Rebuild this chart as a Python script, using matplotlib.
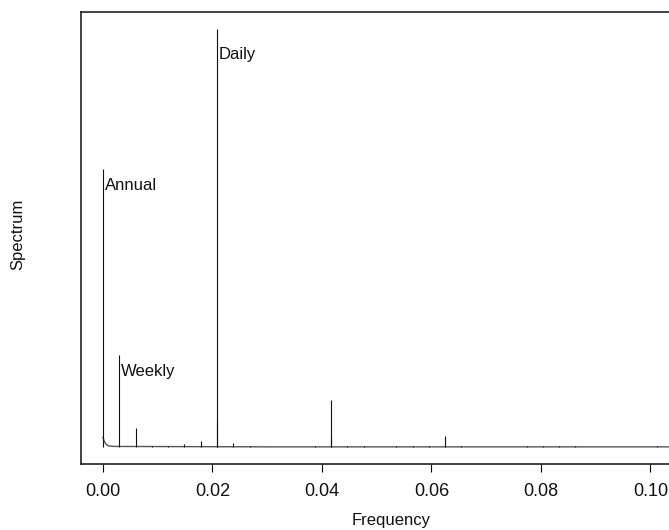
import numpy as np
import matplotlib.pyplot as plt

plt.rcParams['font.family'] = ['Liberation Sans', 'DejaVu Sans']

# spectral peaks (frequency in cycles per half-hour, relative power)
peak_freq = [0.000057, 0.002976, 0.005952, 0.008929, 0.011905, 0.014881,
             0.017857, 0.020833, 0.020860, 0.023810, 0.026786, 0.038690,
             0.041667, 0.041690, 0.044643, 0.047619, 0.053571, 0.056548,
             0.059524, 0.062500, 0.065476, 0.077381, 0.080357, 0.083333,
             0.086310, 0.101190]
peak_power = [0.665, 0.220, 0.045, 0.003, 0.003, 0.009,
              0.015, 1.000, 0.065, 0.011, 0.004, 0.002,
              0.114, 0.025, 0.002, 0.002, 0.002, 0.002,
              0.002, 0.026, 0.002, 0.002, 0.002, 0.004,
              0.002, 0.002]

# low-level background of the periodogram
bg_freq = [0.0, 0.0001, 0.0002, 0.0005, 0.0008, 0.0011, 0.002, 0.03, 0.06, 0.106]
bg_power = [0.024, 0.020, 0.015, 0.008, 0.005, 0.003, 0.002, 0.001, 0.001, 0.001]

labels = ['Annual', 'Weekly', 'Daily']
label_freq = [0.000057, 0.002976, 0.020833]
label_power = [0.625, 0.181, 0.938]

fig = plt.figure(figsize=(6.69, 5.30), dpi=100)
ax = fig.add_axes([81 / 669, 66 / 530, 594 / 669, 451.7 / 530])

ax.plot(bg_freq, bg_power, color='#555555', lw=1.0)
ax.vlines(peak_freq, 0, peak_power, color='#111111', lw=0.8)

for name, f, p in zip(labels, label_freq, label_power):
    ax.text(f + 0.0003, p, name, fontsize=12, va='center', ha='left', color='#111111')

ax.set_xlim(-0.00402, 0.1045)
ax.set_ylim(-0.04, 1.04)
ax.set_xticks([0.0, 0.02, 0.04, 0.06, 0.08, 0.10])
ax.set_xticklabels(['0.00', '0.02', '0.04', '0.06', '0.08', '0.10'])
ax.set_yticks([])
ax.tick_params(axis='x', length=6, width=0.8, pad=8, labelsize=13, labelcolor='#111111')
for s in ax.spines.values():
    s.set_linewidth(1.2)
    s.set_color('#222222')

fig.text(391 / 669, 1 - 521 / 530, 'Frequency', fontsize=12, ha='center', va='center', color='#111111')
fig.text(18 / 669, 1 - 234 / 530, 'Spectrum', fontsize=12, ha='center', va='center', rotation=90,
         color='#111111')

fig.savefig('out.png', dpi=100)
